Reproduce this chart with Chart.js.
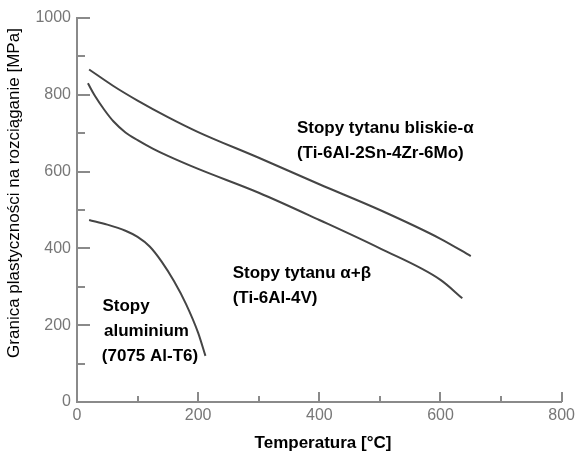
<!DOCTYPE html>
<html>
<head>
<meta charset="utf-8">
<script src="https://cdn.jsdelivr.net/npm/chart.js@4/dist/chart.umd.min.js"></script>
<style>
  html, body { margin: 0; padding: 0; background: #fff; }
  #wrap { width: 579px; height: 455px; position: relative; }
</style>
</head>
<body>
<div id="wrap"><canvas id="chart"></canvas></div>
<script>
// values
const nearAlphaTemp = [20, 60, 100, 150, 200, 300, 400, 500, 600, 650];
const nearAlphaYield = [866, 823, 785, 742, 703, 636, 567, 500, 425, 380];

const alphaBetaTemp = [18, 30, 45, 60, 80, 100, 125, 150, 200, 300, 400, 500, 600, 636];
const alphaBetaYield = [830, 796, 761, 731, 702, 682, 660, 641, 607, 545, 474, 400, 318, 270];

const aluTemp = [20, 50, 80, 100, 120, 140, 160, 180, 200, 212];
const aluYield = [474, 462, 446, 430, 405, 365, 315, 255, 180, 120];

const xMajorTicks = [0, 200, 400, 600, 800];
const xMinorTicks = [100, 300, 500, 700];
const yMajorTicks = [0, 200, 400, 600, 800, 1000];
const yMinorTicks = [100, 300, 500, 700, 900];

const xTitle = 'Temperatura [°C]';
const yTitle = 'Granica plastyczności na rozciąganie [MPa]';

const notes = [
  { x: 363, y: 714, text: 'Stopy tytanu bliskie-α' },
  { x: 363, y: 648, text: '(Ti-6Al-2Sn-4Zr-6Mo)' },
  { x: 257, y: 336, text: 'Stopy tytanu α+β' },
  { x: 257, y: 271, text: '(Ti-6Al-4V)' },
  { x: 42, y: 248, text: 'Stopy' },
  { x: 44.5, y: 183, text: 'aluminium' },
  { x: 41, y: 118, text: '(7075 Al-T6)' }
];

const axisColor = '#8a8a8a';
const lineColor = '#454545';
const fontFamily = '"Liberation Sans", Arial, sans-serif';

const toPoints = (xs, ys) => xs.map((x, i) => ({ x: x, y: ys[i] }));

const decorPlugin = {
  id: 'decor',
  afterDraw(chart) {
    const ctx = chart.ctx;
    const xs = chart.scales.x, ys = chart.scales.y;
    const left = chart.chartArea.left, bottom = chart.chartArea.bottom;

    // inward ticks
    ctx.save();
    ctx.strokeStyle = axisColor;
    ctx.lineWidth = 2;
    ctx.beginPath();
    yMajorTicks.forEach(v => {
      const py = Math.round(ys.getPixelForValue(v));
      ctx.moveTo(left, py); ctx.lineTo(left + 13, py);
    });
    yMinorTicks.forEach(v => {
      const py = Math.round(ys.getPixelForValue(v));
      ctx.moveTo(left, py); ctx.lineTo(left + 8, py);
    });
    xMajorTicks.forEach(v => {
      const px = Math.round(xs.getPixelForValue(v));
      ctx.moveTo(px, bottom); ctx.lineTo(px, bottom - 10);
    });
    xMinorTicks.forEach(v => {
      const px = Math.round(xs.getPixelForValue(v));
      ctx.moveTo(px, bottom); ctx.lineTo(px, bottom - 6);
    });
    ctx.stroke();

    // curve labels
    ctx.fillStyle = '#000';
    ctx.font = 'bold 17px ' + fontFamily;
    ctx.textAlign = 'left';
    ctx.textBaseline = 'middle';
    notes.forEach(n => {
      ctx.fillText(n.text, xs.getPixelForValue(n.x), ys.getPixelForValue(n.y));
    });

    // axis titles
    ctx.textAlign = 'center';
    ctx.fillText(xTitle, 323, 443);

    ctx.font = '17px ' + fontFamily;
    ctx.translate(14, 193);
    ctx.rotate(-Math.PI / 2);
    ctx.fillText(yTitle, 0, 0);
    ctx.restore();
  }
};

const lineStyle = {
  borderColor: lineColor,
  borderWidth: 2,
  pointRadius: 0,
  fill: false,
  tension: 0.4,
  cubicInterpolationMode: 'monotone'
};

new Chart(document.getElementById('chart'), {
  type: 'line',
  data: {
    datasets: [
      Object.assign({ label: 'Stopy tytanu bliskie-α', data: toPoints(nearAlphaTemp, nearAlphaYield) }, lineStyle),
      Object.assign({ label: 'Stopy tytanu α+β', data: toPoints(alphaBetaTemp, alphaBetaYield) }, lineStyle),
      Object.assign({ label: 'Stopy aluminium', data: toPoints(aluTemp, aluYield) }, lineStyle)
    ]
  },
  options: {
    responsive: true,
    maintainAspectRatio: false,
    animation: false,
    layout: { padding: { left: 0, top: 18, right: 17, bottom: 0 } },
    plugins: { legend: { display: false }, tooltip: { enabled: false } },
    scales: {
      x: {
        type: 'linear',
        min: 0, max: 800,
        afterFit: s => { s.height = 53; },
        grid: { display: false, drawTicks: false },
        border: { display: true, color: axisColor, width: 2 },
        ticks: {
          stepSize: 200,
          padding: 4,
          color: '#777',
          font: { family: fontFamily, size: 16 },
          callback: v => String(v)
        }
      },
      y: {
        min: 0, max: 1000,
        afterFit: s => { s.width = 77; },
        grid: { display: false, drawTicks: false },
        border: { display: true, color: axisColor, width: 2 },
        ticks: {
          stepSize: 200,
          padding: 6,
          color: '#777',
          font: { family: fontFamily, size: 16 },
          callback: v => String(v)
        }
      }
    }
  },
  plugins: [decorPlugin]
});
</script>
</body>
</html>
